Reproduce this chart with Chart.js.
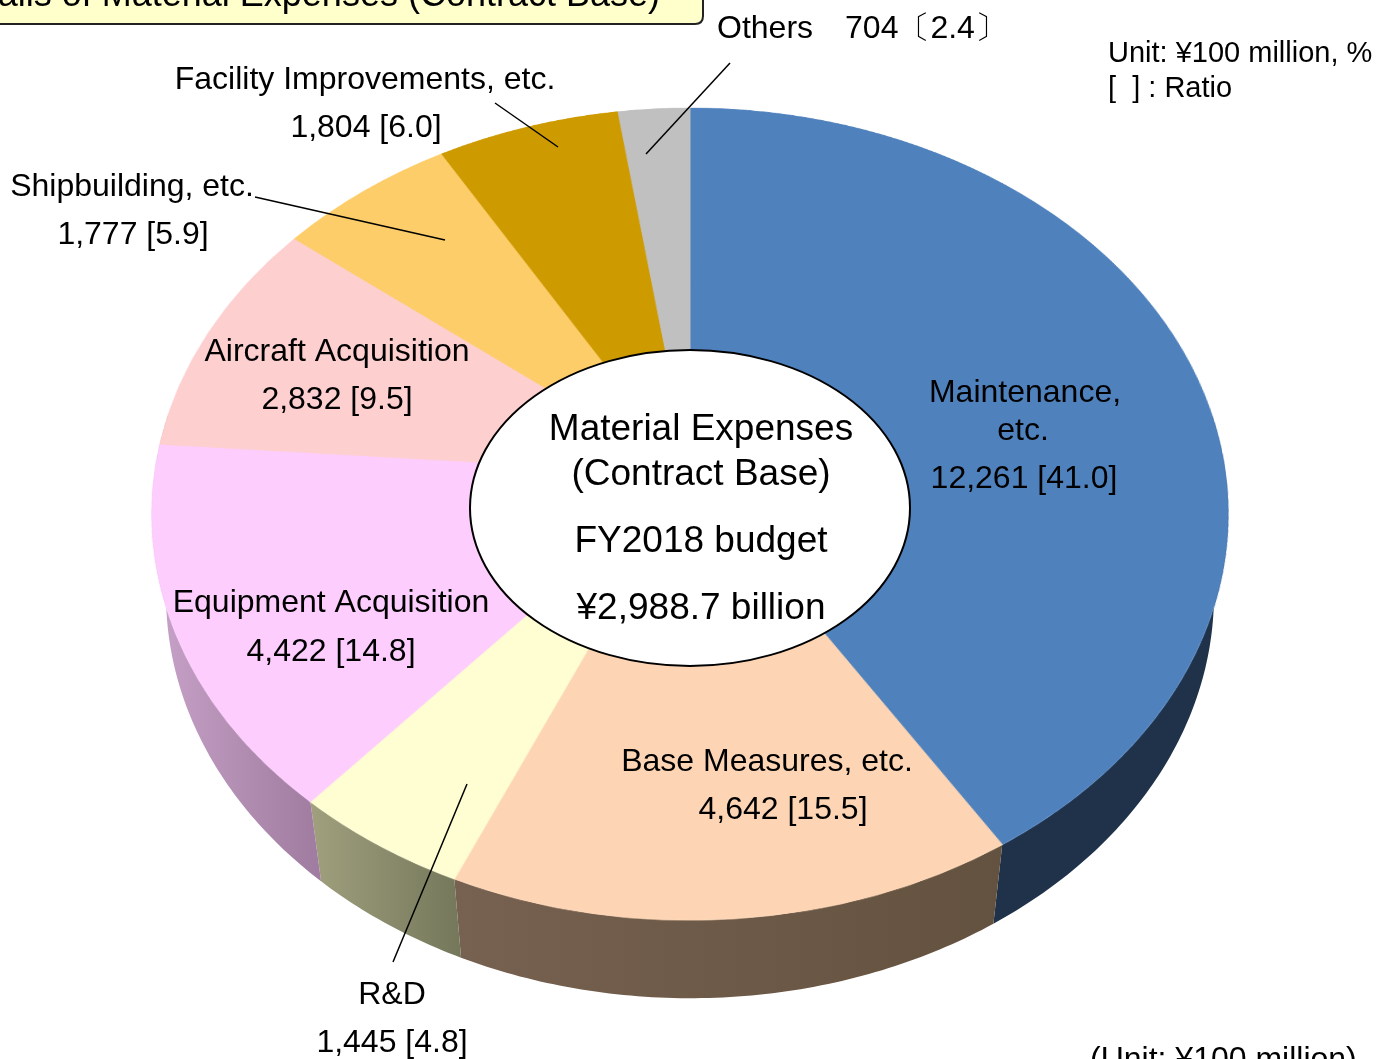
<!DOCTYPE html>
<html>
<head>
<meta charset="utf-8">
<script src="https://cdn.jsdelivr.net/npm/chart.js@4.4.0/dist/chart.umd.min.js"></script>
<style>
  html, body { margin: 0; padding: 0; background: #ffffff; overflow: hidden; }
  #wrap { position: relative; width: 1377px; height: 1059px; overflow: hidden; }
  #rim, #notes { position: absolute; left: 0; top: 0; }
  #rim { z-index: 1; }
  #notes { z-index: 3; }
  /* the flat pie is tilted back so it reads as a disc lying on a table */
  #tilt {
    position: absolute; left: 140px; top: -76px; width: 1100px; height: 1100px; z-index: 2;
    transform-origin: 550px 550px;
    transform: perspective(3590px) rotateX(41.34deg);
  }
</style>
</head>
<body>
<div id="wrap">
  <canvas id="rim" width="1377" height="1059"></canvas>
  <div id="tilt"><canvas id="pie" width="1100" height="1100"></canvas></div>
  <canvas id="notes" width="1377" height="1059"></canvas>
</div>
<script>
// Material expenses (contract base), FY2018 budget
// slices run clockwise from 12 o'clock; unit: 100 million yen, ratio in %
var categories = ['Maintenance, etc.', 'Base Measures, etc.', 'R&D', 'Equipment Acquisition',
                  'Aircraft Acquisition', 'Shipbuilding, etc.', 'Facility Improvements, etc.', 'Others'];
var amounts = [12261, 4642, 1445, 4422, 2832, 1777, 1804, 704];
var ratios = [41.0, 15.5, 4.8, 14.8, 9.5, 5.9, 6.0, 2.4];
var centerLines = ['Material Expenses', '(Contract Base)', 'FY2018 budget', '\u00a52,988.7 billion'];

// colours of the top face and of the rim (light -> dark across each slice)
var faceColors = ['#4f81bd', '#fdd5b4', '#fffdd2', '#fdcdfd', '#fdcfcf', '#fdcd69', '#cd9a00', '#c0c0c0'];
var rimLight = ['#1f3249', '#776150', '#a0a07e', '#c8a2c8', '#c8a0a0', '#c8a050', '#9a7400', '#999999'];
var rimDark = ['#1f3249', '#63523f', '#74775a', '#9f7b9f', '#a08080', '#a07a40', '#7a5c00', '#808080'];

// label placement: name lines and value line, each as [text, x, y]
var labelSpots = [
  { name: [['Maintenance,', 1025, 393], ['etc.', 1023, 431]], value: [1024, 479] },
  { name: [['Base Measures, etc.', 767, 762]], value: [783, 810] },
  { name: [['R&D', 392, 995]], value: [392, 1043] },
  { name: [['Equipment Acquisition', 331, 603]], value: [331, 652] },
  { name: [['Aircraft Acquisition', 337, 352]], value: [337, 400] },
  { name: [['Shipbuilding, etc.', 132, 187]], value: [133, 235] },
  { name: [['Facility Improvements, etc.', 365, 80]], value: [366, 128] },
  { name: [], value: null }
];
var leaderLines = [
  [730, 63, 646, 154],
  [495, 103, 558, 147],
  [255, 197, 445, 240],
  [467, 784, 393, 962]
];

var FONT = '"Liberation Sans", Arial, sans-serif';

// view of the tilted disc: screen centre, tilt angle, eye distance, disc thickness
var VIEW = { cx: 690, cy: 474, tilt: 41.34 * Math.PI / 180, eye: 3590, thick: 128 };

function fmt(v) { return v.toLocaleString('en-US'); }

// project a point of the disc (angle phi, radius r, depth below the top face) to the page
function project(phi, r, depth) {
  var ca = Math.cos(VIEW.tilt), sa = Math.sin(VIEW.tilt);
  var u = r * Math.cos(phi), v = r * Math.sin(phi);
  var y = v * ca + depth * sa;
  var z = v * sa - depth * ca;
  var k = VIEW.eye / (VIEW.eye - z);
  return [VIEW.cx + u * k, VIEW.cy + y * k];
}

function drawRim(arcs) {
  var ctx = document.getElementById('rim').getContext('2d');
  ctx.clearRect(0, 0, 1377, 1059);
  var r = arcs[0].outerRadius;
  arcs.forEach(function (a, i) {
    var s = Math.max(a.startAngle, -0.15), e = Math.min(a.endAngle, Math.PI + 0.15);
    if (e <= s) return;
    var n = Math.max(4, Math.ceil((e - s) * 80));
    var top = [], bottom = [];
    for (var k = 0; k <= n; k++) {
      var phi = s + (e - s) * k / n;
      top.push(project(phi, r, 0));
      bottom.push(project(phi, r, VIEW.thick));
    }
    var xs = top.concat(bottom).map(function (p) { return p[0]; });
    var g = ctx.createLinearGradient(Math.min.apply(null, xs), 0, Math.max.apply(null, xs), 0);
    g.addColorStop(0, rimLight[i]);
    g.addColorStop(1, rimDark[i]);
    ctx.fillStyle = g;
    ctx.beginPath();
    top.forEach(function (p, k) { if (k === 0) ctx.moveTo(p[0], p[1]); else ctx.lineTo(p[0], p[1]); });
    for (var j = bottom.length - 1; j >= 0; j--) ctx.lineTo(bottom[j][0], bottom[j][1]);
    ctx.closePath();
    ctx.fill();
  });
}

function drawNotes() {
  var ctx = document.getElementById('notes').getContext('2d');
  ctx.clearRect(0, 0, 1377, 1059);

  // title box, cut by the top edge
  ctx.beginPath();
  ctx.moveTo(-20, -40);
  ctx.lineTo(703, -40);
  ctx.lineTo(703, 16);
  ctx.quadraticCurveTo(703, 24, 695, 24);
  ctx.lineTo(-20, 24);
  ctx.closePath();
  ctx.fillStyle = '#ffffcc';
  ctx.fill();
  ctx.lineWidth = 2;
  ctx.strokeStyle = '#222222';
  ctx.stroke();
  ctx.fillStyle = '#000000';
  ctx.font = '36px ' + FONT;
  ctx.textAlign = 'right';
  ctx.textBaseline = 'alphabetic';
  ctx.fillText('Details of Material Expenses (Contract Base)', 660, 6);

  // centre oval
  ctx.beginPath();
  ctx.ellipse(690, 508, 220, 158, 0, 0, Math.PI * 2);
  ctx.fillStyle = '#ffffff';
  ctx.fill();
  ctx.lineWidth = 2;
  ctx.strokeStyle = '#000000';
  ctx.stroke();

  ctx.fillStyle = '#000000';
  ctx.textAlign = 'center';
  ctx.textBaseline = 'middle';
  ctx.font = '37px ' + FONT;
  var cy = [430, 475, 542, 609];
  centerLines.forEach(function (t, i) { ctx.fillText(t, 701, cy[i]); });

  // slice labels
  ctx.font = '32px ' + FONT;
  labelSpots.forEach(function (spot, i) {
    spot.name.forEach(function (n) { ctx.fillText(n[0], n[1], n[2]); });
    if (spot.value) {
      ctx.fillText(fmt(amounts[i]) + ' [' + ratios[i].toFixed(1) + ']', spot.value[0], spot.value[1]);
    }
  });
  ctx.textAlign = 'left';
  ctx.fillText(categories[7] + '\u3000' + fmt(amounts[7]) + '\u3014' + ratios[7].toFixed(1) + '\u3015', 717, 29);

  // unit notes
  ctx.font = '29px ' + FONT;
  ctx.fillText('Unit: \u00a5100 million, %', 1108, 54);
  ctx.fillText('[  ] : Ratio', 1108, 89);
  ctx.font = '32px ' + FONT;
  ctx.textBaseline = 'alphabetic';
  ctx.fillText('(Unit: \u00a5100 million)', 1090, 1069);

  // leader lines
  ctx.lineWidth = 1.5;
  ctx.strokeStyle = '#000000';
  leaderLines.forEach(function (l) {
    ctx.beginPath();
    ctx.moveTo(l[0], l[1]);
    ctx.lineTo(l[2], l[3]);
    ctx.stroke();
  });
}

var sidePlugin = {
  id: 'side',
  afterDraw: function (chart) {
    drawRim(chart.getDatasetMeta(0).data);
    drawNotes();
  }
};

new Chart(document.getElementById('pie'), {
  type: 'pie',
  data: {
    labels: categories,
    datasets: [{
      data: amounts,
      backgroundColor: faceColors,
      borderColor: faceColors,
      borderWidth: 1
    }]
  },
  options: {
    responsive: false,
    animation: false,
    devicePixelRatio: 1,
    layout: { padding: 14 },
    plugins: {
      legend: { display: false },
      title: { display: false },
      tooltip: { enabled: false }
    }
  },
  plugins: [sidePlugin]
});
</script>
</body>
</html>
